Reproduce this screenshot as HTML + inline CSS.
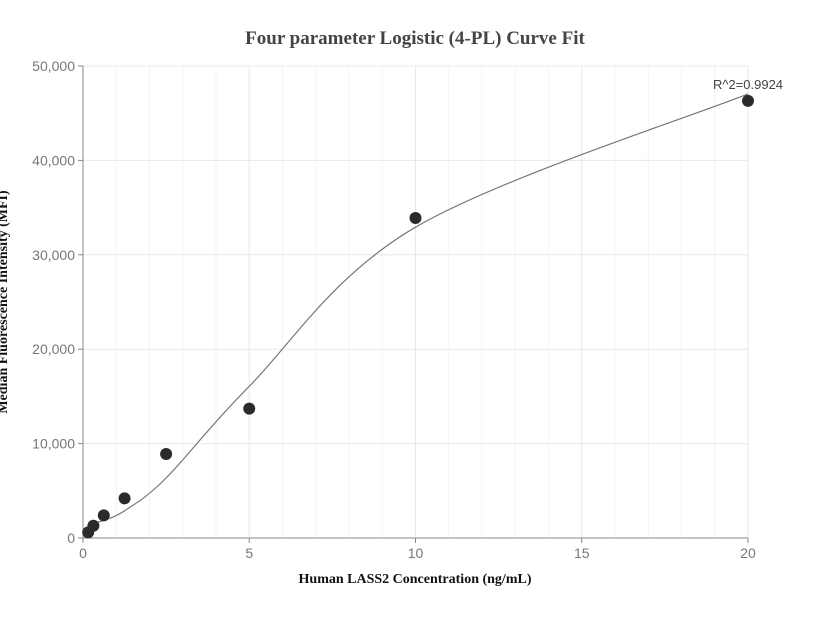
<!DOCTYPE html>
<html><head><meta charset="utf-8"><style>
body{margin:0;background:#fff;}
svg text{font-family:"Liberation Sans",sans-serif;}
</style></head><body>
<svg id="chart" width="830" height="616" xmlns="http://www.w3.org/2000/svg">
<text x="415" y="44" text-anchor="middle" style="font-family:'Liberation Serif',serif" font-weight="bold" font-size="19" fill="#444">Four parameter Logistic (4-PL) Curve Fit</text>
<g id="grid"></g>
<g id="axes"></g>
<path id="curve" fill="none" stroke="#777" stroke-width="1.2"></path>
<g id="pts"></g>
<text x="748" y="89" text-anchor="middle" font-size="13" fill="#444">R^2=0.9924</text>
<text x="415" y="583" text-anchor="middle" style="font-family:'Liberation Serif',serif" font-weight="bold" font-size="14" fill="#111">Human LASS2 Concentration (ng/mL)</text>
<text transform="translate(7,302) rotate(-90)" text-anchor="middle" style="font-family:'Liberation Serif',serif" font-weight="bold" font-size="14" fill="#111">Median Fluorescence Intensity (MFI)</text>
</svg>
<script>
const xs=[0.156,0.3125,0.625,1.25,2.5,5,10,20];
const ys=[600,1300,2400,4200,8900,13700,33900,46300];
const xTicks=[0,5,10,15,20];
const yTicks=[0,10000,20000,30000,40000,50000];
const fitParams=[1500,1.9,8.5,56000]; // A,B,C,D
const NS="http://www.w3.org/2000/svg";
const X=v=>83+v*(748-83)/20;
const Y=v=>538-v*(538-66)/50000;
function mk(t,a,p){const e=document.createElementNS(NS,t);for(const k in a)e.setAttribute(k,a[k]);p.appendChild(e);return e;}
const grid=document.getElementById('grid'),axes=document.getElementById('axes');
for(let i=1;i<=20;i++){const l=mk('line',{x1:X(i),x2:X(i),y1:66,y2:538,stroke:i%5?'#f3f4f7':'#e6e8ee'},grid);

}
yTicks.forEach(v=>{if(v>0){const l=mk('line',{x1:83,x2:748,y1:Y(v),y2:Y(v),stroke:'#e6e8ee'},grid);

}
const t=mk('text',{x:75,y:Y(v)+5,'text-anchor':'end','font-size':14,fill:'#777'},axes);t.textContent=v.toLocaleString('en-US');


mk('line',{x1:78,x2:83,y1:Y(v),y2:Y(v),stroke:'#888'},axes);});
xTicks.forEach(v=>{const t=mk('text',{x:X(v),y:558,'text-anchor':'middle','font-size':14,fill:'#777'},axes);t.textContent=v;


mk('line',{x1:X(v),x2:X(v),y1:538,y2:543,stroke:'#888'},axes);});
mk('line',{x1:83,x2:83,y1:66,y2:538,stroke:'#888'},axes);
mk('line',{x1:83,x2:748,y1:538,y2:538,stroke:'#888'},axes);
const [A,B,C,D]=fitParams;
const f=x=>D+(A-D)/(1+Math.pow(x/C,B));
// spline through fitted values at the data x positions (Catmull-Rom)
const P=xs.map(x=>[X(x),Y(f(x))]);
let d='M'+P[0][0].toFixed(1)+','+P[0][1].toFixed(1);
for(let i=0;i<P.length-1;i++){const p0=P[Math.max(0,i-1)],p1=P[i],p2=P[i+1],p3=P[Math.min(P.length-1,i+2)];
const c1=[p1[0]+(p2[0]-p0[0])/6,p1[1]+(p2[1]-p0[1])/6],c2=[p2[0]-(p3[0]-p1[0])/6,p2[1]-(p3[1]-p1[1])/6];
d+='C'+c1.map(v=>v.toFixed(1)).join(',')+' '+c2.map(v=>v.toFixed(1)).join(',')+' '+p2.map(v=>v.toFixed(1)).join(',');}
document.getElementById('curve').setAttribute('d',d);
const pts=document.getElementById('pts');
xs.forEach((x,i)=>{const c=mk('circle',{cx:X(x),cy:Y(ys[i]),r:6,fill:'#2b2b2b'},pts);

});
</script>
</body></html>
